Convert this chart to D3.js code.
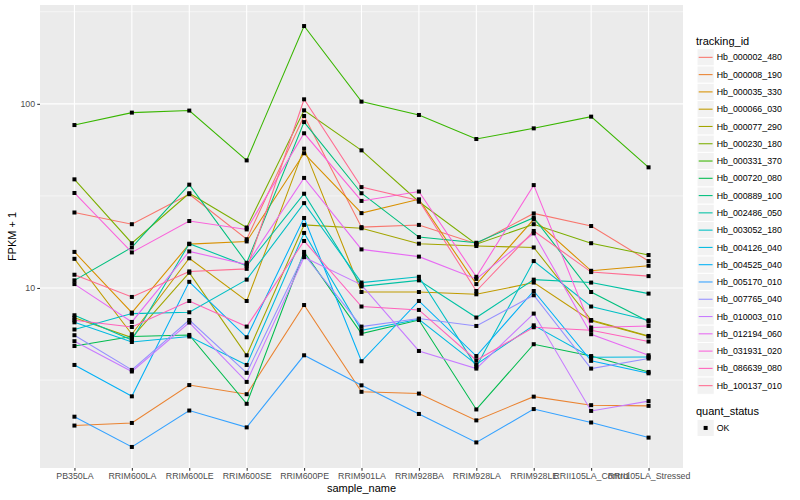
<!DOCTYPE html>
<html>
<head>
<meta charset="utf-8">
<script src="https://cdn.jsdelivr.net/npm/d3@7"></script>
<style>
  body { margin: 0; background: #fff; }
  svg { display: block; font-family: "Liberation Sans", Arial, Helvetica, sans-serif; }
</style>
</head>
<body>
<div id="chart"></div>
<script>
const samples = ["PB350LA", "RRIM600LA", "RRIM600LE", "RRIM600SE", "RRIM600PE", "RRIM901LA",
  "RRIM928BA", "RRIM928LA", "RRIM928LE", "RRII105LA_Control", "RRII105LA_Stressed"];

const trackingIds = ["Hb_000002_480", "Hb_000008_190", "Hb_000035_330", "Hb_000066_030",
  "Hb_000077_290", "Hb_000230_180", "Hb_000331_370", "Hb_000720_080", "Hb_000889_100",
  "Hb_002486_050", "Hb_003052_180", "Hb_004126_040", "Hb_004525_040", "Hb_005170_010",
  "Hb_007765_040", "Hb_010003_010", "Hb_012194_060", "Hb_031931_020", "Hb_086639_080",
  "Hb_100137_010"];

// FPKM + 1 per gene, one value per sample (same order as samples)
const hb000002 = [25.7, 22.2, 32.3, 18.4, 85.9, 21.4, 22.0, 17.4, 25.4, 21.7, 14.0];
const hb000008 = [1.79, 1.85, 2.97, 2.65, 8.08, 2.73, 2.67, 1.91, 2.57, 2.31, 2.29];
const hb000035 = [15.7, 7.35, 17.3, 17.9, 53.9, 25.5, 30.3, 10.5, 23.6, 12.4, 13.2];
const hb000066 = [14.4, 5.61, 14.5, 8.50, 57.1, 9.51, 9.51, 9.24, 10.7, 6.64, 5.45];
const hb000077 = [6.89, 5.38, 12.1, 4.31, 22.0, 21.1, 17.4, 16.9, 16.6, 6.70, 5.49];
const hb000230 = [38.9, 17.5, 32.7, 21.3, 92.2, 55.9, 29.4, 17.3, 22.2, 17.5, 15.1];
const hb000331 = [76.7, 89.6, 91.9, 49.3, 264.5, 102.8, 87.0, 64.4, 73.6, 85.2, 45.2];
const hb000720 = [4.84, 5.45, 5.56, 2.35, 15.7, 5.65, 6.70, 2.19, 4.95, 4.27, 3.50];
const hb000889 = [11.0, 16.6, 36.4, 13.7, 79.6, 32.7, 18.9, 17.6, 24.1, 9.51, 6.57];
const hb002486 = [7.11, 5.22, 17.4, 13.2, 32.5, 10.2, 11.0, 6.91, 11.1, 10.7, 9.32];
const hb003052 = [5.95, 7.26, 7.38, 11.1, 28.9, 10.7, 11.5, 3.74, 14.0, 7.93, 6.68];
const hb004126 = [6.51, 5.09, 5.45, 3.82, 19.9, 5.89, 6.76, 3.85, 6.27, 4.21, 4.22];
const hb004525 = [3.82, 2.58, 10.8, 5.40, 24.0, 4.00, 8.50, 4.27, 9.63, 4.02, 3.44];
const hb005170 = [2.00, 1.37, 2.16, 1.75, 4.31, 2.96, 2.07, 1.45, 2.20, 1.86, 1.54];
const hb007765 = [5.54, 3.59, 6.70, 3.46, 15.2, 6.17, 6.82, 6.22, 9.13, 3.65, 4.14];
const hb010003 = [5.14, 3.52, 6.49, 3.09, 14.7, 10.4, 4.55, 3.65, 7.26, 2.15, 2.43];
const hb012194 = [10.5, 6.54, 15.8, 13.4, 39.6, 16.2, 14.8, 11.2, 19.8, 5.61, 4.31];
const hb031931 = [32.8, 15.6, 23.1, 20.8, 69.2, 29.7, 33.4, 11.5, 36.2, 6.10, 6.22];
const hb086639 = [6.68, 6.14, 8.50, 6.17, 18.0, 7.93, 7.60, 4.05, 6.12, 5.89, 5.12];
const hb100137 = [11.8, 8.94, 12.3, 12.7, 105.8, 35.3, 29.9, 9.63, 20.4, 12.2, 11.6];

const seriesValues = [hb000002, hb000008, hb000035, hb000066, hb000077, hb000230, hb000331,
  hb000720, hb000889, hb002486, hb003052, hb004126, hb004525, hb005170, hb007765, hb010003,
  hb012194, hb031931, hb086639, hb100137];

const yBreaks = [1, 10, 100, 1000];
const yMinorBreaks = [Math.sqrt(10), Math.sqrt(1000), Math.sqrt(100000)];

// ggplot default hue palette for 20 levels
const colors = ["#F8766D", "#EA8331", "#D89000", "#C09B00", "#A3A500", "#7CAE00", "#39B600",
  "#00BB4E", "#00BF7D", "#00C1A3", "#00BFC4", "#00BAE0", "#00B0F6", "#35A2FF", "#9590FF",
  "#C77CFF", "#E76BF3", "#FA62DB", "#FF62BC", "#FF6C91"];

const series = trackingIds.map((id, i) => ({
  id: id,
  color: colors[i],
  values: seriesValues[i].map((v, j) => ({ sample: samples[j], value: v }))
}));

const W = 800, H = 500;
const panel = { left: 40, right: 683, top: 5, bottom: 468 };

const svg = d3.select("#chart").append("svg")
  .attr("width", W)
  .attr("height", H);

const x = d3.scalePoint()
  .domain(samples)
  .range([panel.left, panel.right])
  .padding(0.6);

// log scale with ggplot-like 5% expansion
const allVals = seriesValues.flat();
const lo = Math.log10(d3.min(allVals)), hi = Math.log10(d3.max(allVals));
const pad = (hi - lo) * 0.05;
const y = d3.scaleLog()
  .domain([Math.pow(10, lo - pad), Math.pow(10, hi + pad)])
  .range([panel.bottom, panel.top]);
const [dMin, dMax] = y.domain();
const inDomain = (v) => v >= dMin && v <= dMax;

// panel background
svg.append("rect")
  .attr("x", panel.left)
  .attr("y", panel.top)
  .attr("width", panel.right - panel.left)
  .attr("height", panel.bottom - panel.top)
  .attr("fill", "#EBEBEB");

const grid = svg.append("g");
grid.selectAll(".minor")
  .data(yMinorBreaks.filter(inDomain))
  .enter().append("line")
  .attr("x1", panel.left).attr("x2", panel.right)
  .attr("y1", (d) => y(d)).attr("y2", (d) => y(d))
  .attr("stroke", "#fff").attr("stroke-width", 0.55);
grid.selectAll(".major")
  .data(yBreaks.filter(inDomain))
  .enter().append("line")
  .attr("x1", panel.left).attr("x2", panel.right)
  .attr("y1", (d) => y(d)).attr("y2", (d) => y(d))
  .attr("stroke", "#fff").attr("stroke-width", 1.1);
grid.selectAll(".vmajor")
  .data(samples)
  .enter().append("line")
  .attr("x1", (d) => x(d)).attr("x2", (d) => x(d))
  .attr("y1", panel.top).attr("y2", panel.bottom)
  .attr("stroke", "#fff").attr("stroke-width", 1.1);

// lines
const line = d3.line()
  .x((d) => x(d.sample))
  .y((d) => y(d.value));

svg.append("g")
  .selectAll("path")
  .data(series)
  .enter().append("path")
  .attr("d", (d) => line(d.values))
  .attr("fill", "none")
  .attr("stroke", (d) => d.color)
  .attr("stroke-width", 1.07);

// points (quant_status OK)
svg.append("g")
  .selectAll("g")
  .data(series)
  .enter().append("g")
  .selectAll("rect")
  .data((d) => d.values)
  .enter().append("rect")
  .attr("x", (d) => x(d.sample) - 2)
  .attr("y", (d) => y(d.value) - 2)
  .attr("width", 4)
  .attr("height", 4)
  .attr("fill", "#000");

// axes
const yAxis = d3.axisLeft(y)
  .tickValues(yBreaks.filter(inDomain))
  .tickFormat(d3.format("d"))
  .tickSize(2.75)
  .tickPadding(2.2);
const gy = svg.append("g")
  .attr("transform", `translate(${panel.left},0)`)
  .call(yAxis);

const xAxis = d3.axisBottom(x)
  .tickSize(2.75)
  .tickPadding(2.2);
const gx = svg.append("g")
  .attr("transform", `translate(0,${panel.bottom})`)
  .call(xAxis);

[gy, gx].forEach((g) => {
  g.select(".domain").remove();
  g.selectAll(".tick line").attr("stroke", "#333333").attr("stroke-width", 1.07);
  g.selectAll(".tick text")
    .attr("fill", "#4D4D4D")
    .attr("font-size", "8.8px")
    .attr("font-family", "Liberation Sans, Arial, sans-serif");
});

svg.append("text")
  .attr("x", (panel.left + panel.right) / 2)
  .attr("y", 492)
  .attr("text-anchor", "middle")
  .attr("font-size", "11px")
  .attr("fill", "#000")
  .text("sample_name");

svg.append("text")
  .attr("transform", `translate(16,${(panel.top + panel.bottom) / 2}) rotate(-90)`)
  .attr("text-anchor", "middle")
  .attr("font-size", "11px")
  .attr("fill", "#000")
  .text("FPKM + 1");

// legend: tracking_id
const legX = 697, keySize = 17.28, firstKey = 48.7;
const leg = svg.append("g");
leg.append("text")
  .attr("x", legX - 1)
  .attr("y", 44.5)
  .attr("font-size", "11px")
  .attr("fill", "#000")
  .text("tracking_id");

const items = leg.selectAll(".item")
  .data(series)
  .enter().append("g")
  .attr("transform", (d, i) => `translate(${legX},${firstKey + i * keySize})`);
items.append("rect")
  .attr("width", keySize).attr("height", keySize)
  .attr("fill", "#F2F2F2").attr("stroke", "#fff").attr("stroke-width", 1);
items.append("line")
  .attr("x1", 1.7).attr("x2", keySize - 1.7)
  .attr("y1", keySize / 2).attr("y2", keySize / 2)
  .attr("stroke", (d) => d.color).attr("stroke-width", 1.07);
items.append("text")
  .attr("x", keySize + 2.5)
  .attr("y", keySize / 2 + 3.1)
  .attr("font-size", "8.8px")
  .attr("fill", "#000")
  .text((d) => d.id);

// legend: quant_status
const qTop = firstKey + series.length * keySize + 25;
leg.append("text")
  .attr("x", legX - 1)
  .attr("y", qTop - 4.5)
  .attr("font-size", "11px")
  .attr("fill", "#000")
  .text("quant_status");
const q = leg.append("g").attr("transform", `translate(${legX},${qTop})`);
q.append("rect")
  .attr("width", keySize).attr("height", keySize)
  .attr("fill", "#F2F2F2").attr("stroke", "#fff");
q.append("rect")
  .attr("x", keySize / 2 - 2).attr("y", keySize / 2 - 2)
  .attr("width", 4).attr("height", 4)
  .attr("fill", "#000");
q.append("text")
  .attr("x", keySize + 2.5)
  .attr("y", keySize / 2 + 3.1)
  .attr("font-size", "8.8px")
  .attr("fill", "#000")
  .text("OK");
</script>
</body>
</html>
